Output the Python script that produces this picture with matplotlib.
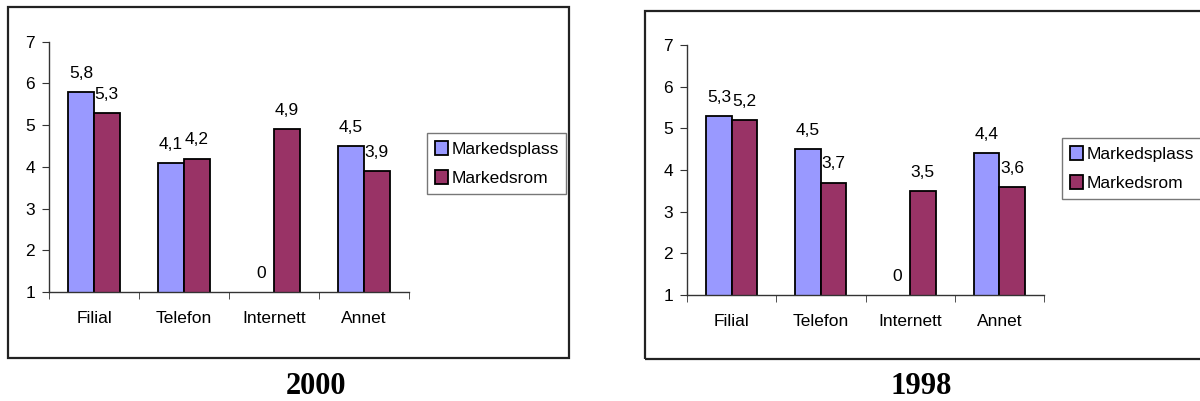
import matplotlib
matplotlib.use('Agg')
import matplotlib.pyplot as plt
from matplotlib.patches import Rectangle
import numpy as np

plt.rcParams['font.family'] = ['Liberation Sans', 'DejaVu Sans']

categories = ['Filial', 'Telefon', 'Internett', 'Annet']
series_names = ['Markedsplass', 'Markedsrom']

plass_2000 = [5.8, 4.1, 0.0, 4.5]
rom_2000 = [5.3, 4.2, 4.9, 3.9]
plass_1998 = [5.3, 4.5, 0.0, 4.4]
rom_1998 = [5.2, 3.7, 3.5, 3.6]

BLUE = '#9999FF'
PURPLE = '#993366'

W, H = 1200, 401
FS = 12.5


def px_axes(fig, x0, x1, y_top, y_bottom):
    return fig.add_axes([x0 / W, 1 - y_bottom / H, (x1 - x0) / W, (y_bottom - y_top) / H])


def fmt(v):
    return f'{v:g}'.replace('.', ',')


def draw_panel(fig, ax, plass, rom, legend_xy, title, title_x):
    x = np.arange(len(categories))
    bw = 0.285
    for vals, offset, color, name in [(plass, -bw / 2, BLUE, series_names[0]),
                                      (rom, bw / 2, PURPLE, series_names[1])]:
        ax.bar(x + offset, vals, width=bw, color=color, edgecolor='black', linewidth=1.3,
               label=name, zorder=2)
        for xi, v in zip(x + offset, vals):
            ax.annotate(fmt(v), (xi, max(v, 1.0)), xytext=(0, 8), textcoords='offset points',
                        ha='center', va='bottom', fontsize=FS, clip_on=False)

    ax.set_ylim(1, 7)
    ax.set_xlim(-0.5, len(categories) - 0.5)
    ax.set_yticks(range(1, 8))
    ax.set_xticks(x)
    ax.set_xticklabels(categories, fontsize=FS)
    ax.set_xticks(np.arange(-0.5, len(categories)), minor=True)
    ax.tick_params(axis='x', which='major', length=0, pad=14)
    ax.tick_params(axis='x', which='minor', length=5, direction='out', color='#333333')
    ax.tick_params(axis='y', length=5, direction='out', pad=5, labelsize=FS, color='#333333')
    for s in ['top', 'right']:
        ax.spines[s].set_visible(False)
    for s in ['left', 'bottom']:
        ax.spines[s].set_color('#333333')
        ax.spines[s].set_linewidth(1.0)

    leg = ax.legend(loc='upper left', bbox_to_anchor=(legend_xy[0] / W, 1 - legend_xy[1] / H),
                    bbox_transform=fig.transFigure, fontsize=12.5, frameon=True, fancybox=False,
                    handlelength=0.75, handleheight=0.9, handletextpad=0.2, labelspacing=0.75,
                    borderpad=0.45, borderaxespad=0)
    leg.get_frame().set_edgecolor('#555555')
    leg.get_frame().set_linewidth(1.0)

    fig.text(title_x / W, 1 - 387 / H, title, ha='center', va='center',
             fontsize=22, fontweight='bold', family='Liberation Serif')


fig = plt.figure(figsize=(W / 100, H / 100), dpi=100)

# outer frames around each chart
fig.patches.append(Rectangle((8 / W, 1 - 358 / H), (569 - 8) / W, (358 - 7) / H,
                             transform=fig.transFigure, fill=False, edgecolor='#222222', linewidth=1.6))
fig.patches.append(Rectangle((645 / W, 1 - 359 / H), (1210 - 645) / W, (359 - 11) / H,
                             transform=fig.transFigure, fill=False, edgecolor='#222222', linewidth=1.6))

ax1 = px_axes(fig, 49, 409, 41.7, 292)
draw_panel(fig, ax1, plass_2000, rom_2000, (427, 133), '2000', 316)

ax2 = px_axes(fig, 687, 1044, 45, 295)
draw_panel(fig, ax2, plass_1998, rom_1998, (1062, 138), '1998', 921)

fig.savefig('out.png', dpi=100)
